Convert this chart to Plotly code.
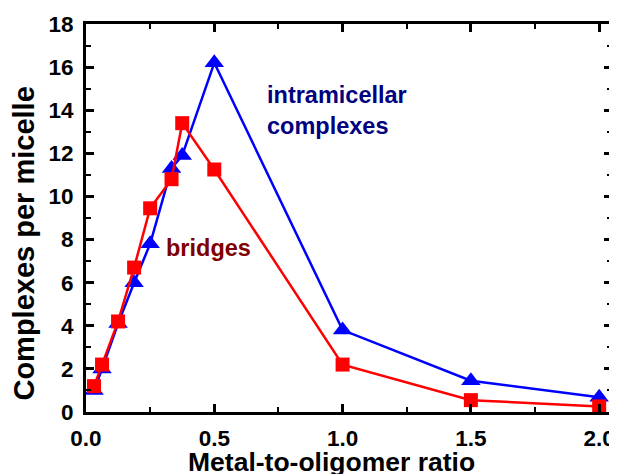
import plotly.graph_objects as go

ratio = [1/32, 1/16, 1/8, 3/16, 1/4, 1/3, 3/8, 1/2, 1.0, 1.5, 2.0]
intramicellar = [1.0, 2.0, 4.1, 6.0, 7.8, 11.3, 11.9, 16.2, 3.8, 1.45, 0.68]
bridges = [1.2, 2.2, 4.2, 6.7, 9.45, 10.8, 13.4, 11.25, 2.2, 0.55, 0.26]

FONT = "Liberation Sans, Arial, sans-serif"

fig = go.Figure()
fig.add_trace(go.Scatter(
    x=ratio, y=intramicellar, mode="lines+markers", name="intramicellar complexes",
    line=dict(color="#0000FF", width=2.5),
    marker=dict(symbol="triangle-up", size=17, color="#0000FF"),
    cliponaxis=False,
))
fig.add_trace(go.Scatter(
    x=ratio, y=bridges, mode="lines+markers", name="bridges",
    line=dict(color="#FF0000", width=2.5),
    marker=dict(symbol="square", size=14, color="#FF0000"),
    cliponaxis=False,
))

fig.add_annotation(x=0.696, y=14.0, xref="x", yref="y", xanchor="left", yanchor="middle",
                   text="intramicellar<br>complexes", showarrow=False, align="left",
                   font=dict(family=FONT, size=23.5, color="#000080", weight="bold"))
fig.add_annotation(x=0.303, y=7.6, xref="x", yref="y", xanchor="left", yanchor="middle",
                   text="bridges", showarrow=False, align="left",
                   font=dict(family=FONT, size=23.5, color="#800000", weight="bold"))

# axis titles placed as annotations
fig.add_annotation(x=-0.118, y=0.434, xref="paper", yref="paper", xanchor="center", yanchor="middle",
                   text="Complexes per micelle", showarrow=False, textangle=-90,
                   font=dict(family=FONT, size=29, color="black", weight="bold"))
fig.add_annotation(x=0.4667, y=-0.128, xref="paper", yref="paper", xanchor="center", yanchor="middle",
                   text="Metal-to-oligomer ratio", showarrow=False,
                   font=dict(family=FONT, size=26.5, color="black", weight="bold"))

axis_common = dict(
    showgrid=False, zeroline=False, showline=True, linecolor="black", linewidth=2.8,
    mirror="ticks", ticks="inside", ticklen=8, tickwidth=2.5, tickcolor="black",
    tickfont=dict(family=FONT, size=22.5, color="black", weight="bold"),
    automargin=False,
)

fig.update_xaxes(
    range=[0, 2.05], tickvals=[0, 0.5, 1.0, 1.5, 2.0], ticktext=["0.0", "0.5", "1.0", "1.5", "2.0"],
    minor=dict(ticks="inside", tickvals=[0.25, 0.75, 1.25, 1.75], ticklen=5, tickwidth=2, tickcolor="black"),
    ticklabelstandoff=4,
    **axis_common,
)
fig.update_yaxes(
    range=[0, 18], tickvals=[0, 2, 4, 6, 8, 10, 12, 14, 16, 18],
    minor=dict(ticks="inside", dtick=1, ticklen=5, tickwidth=2, tickcolor="black"),
    ticklabelstandoff=5,
    **axis_common,
)

# the page body adds an 8px offset; the plot area is sized to land at 86..612 x 24..412
fig.update_layout(
    width=609, height=466,
    margin=dict(l=78, r=5, t=16, b=62),
    plot_bgcolor="white", paper_bgcolor="white",
    showlegend=False,
    font=dict(family=FONT),
)

fig.write_html("out.html")
